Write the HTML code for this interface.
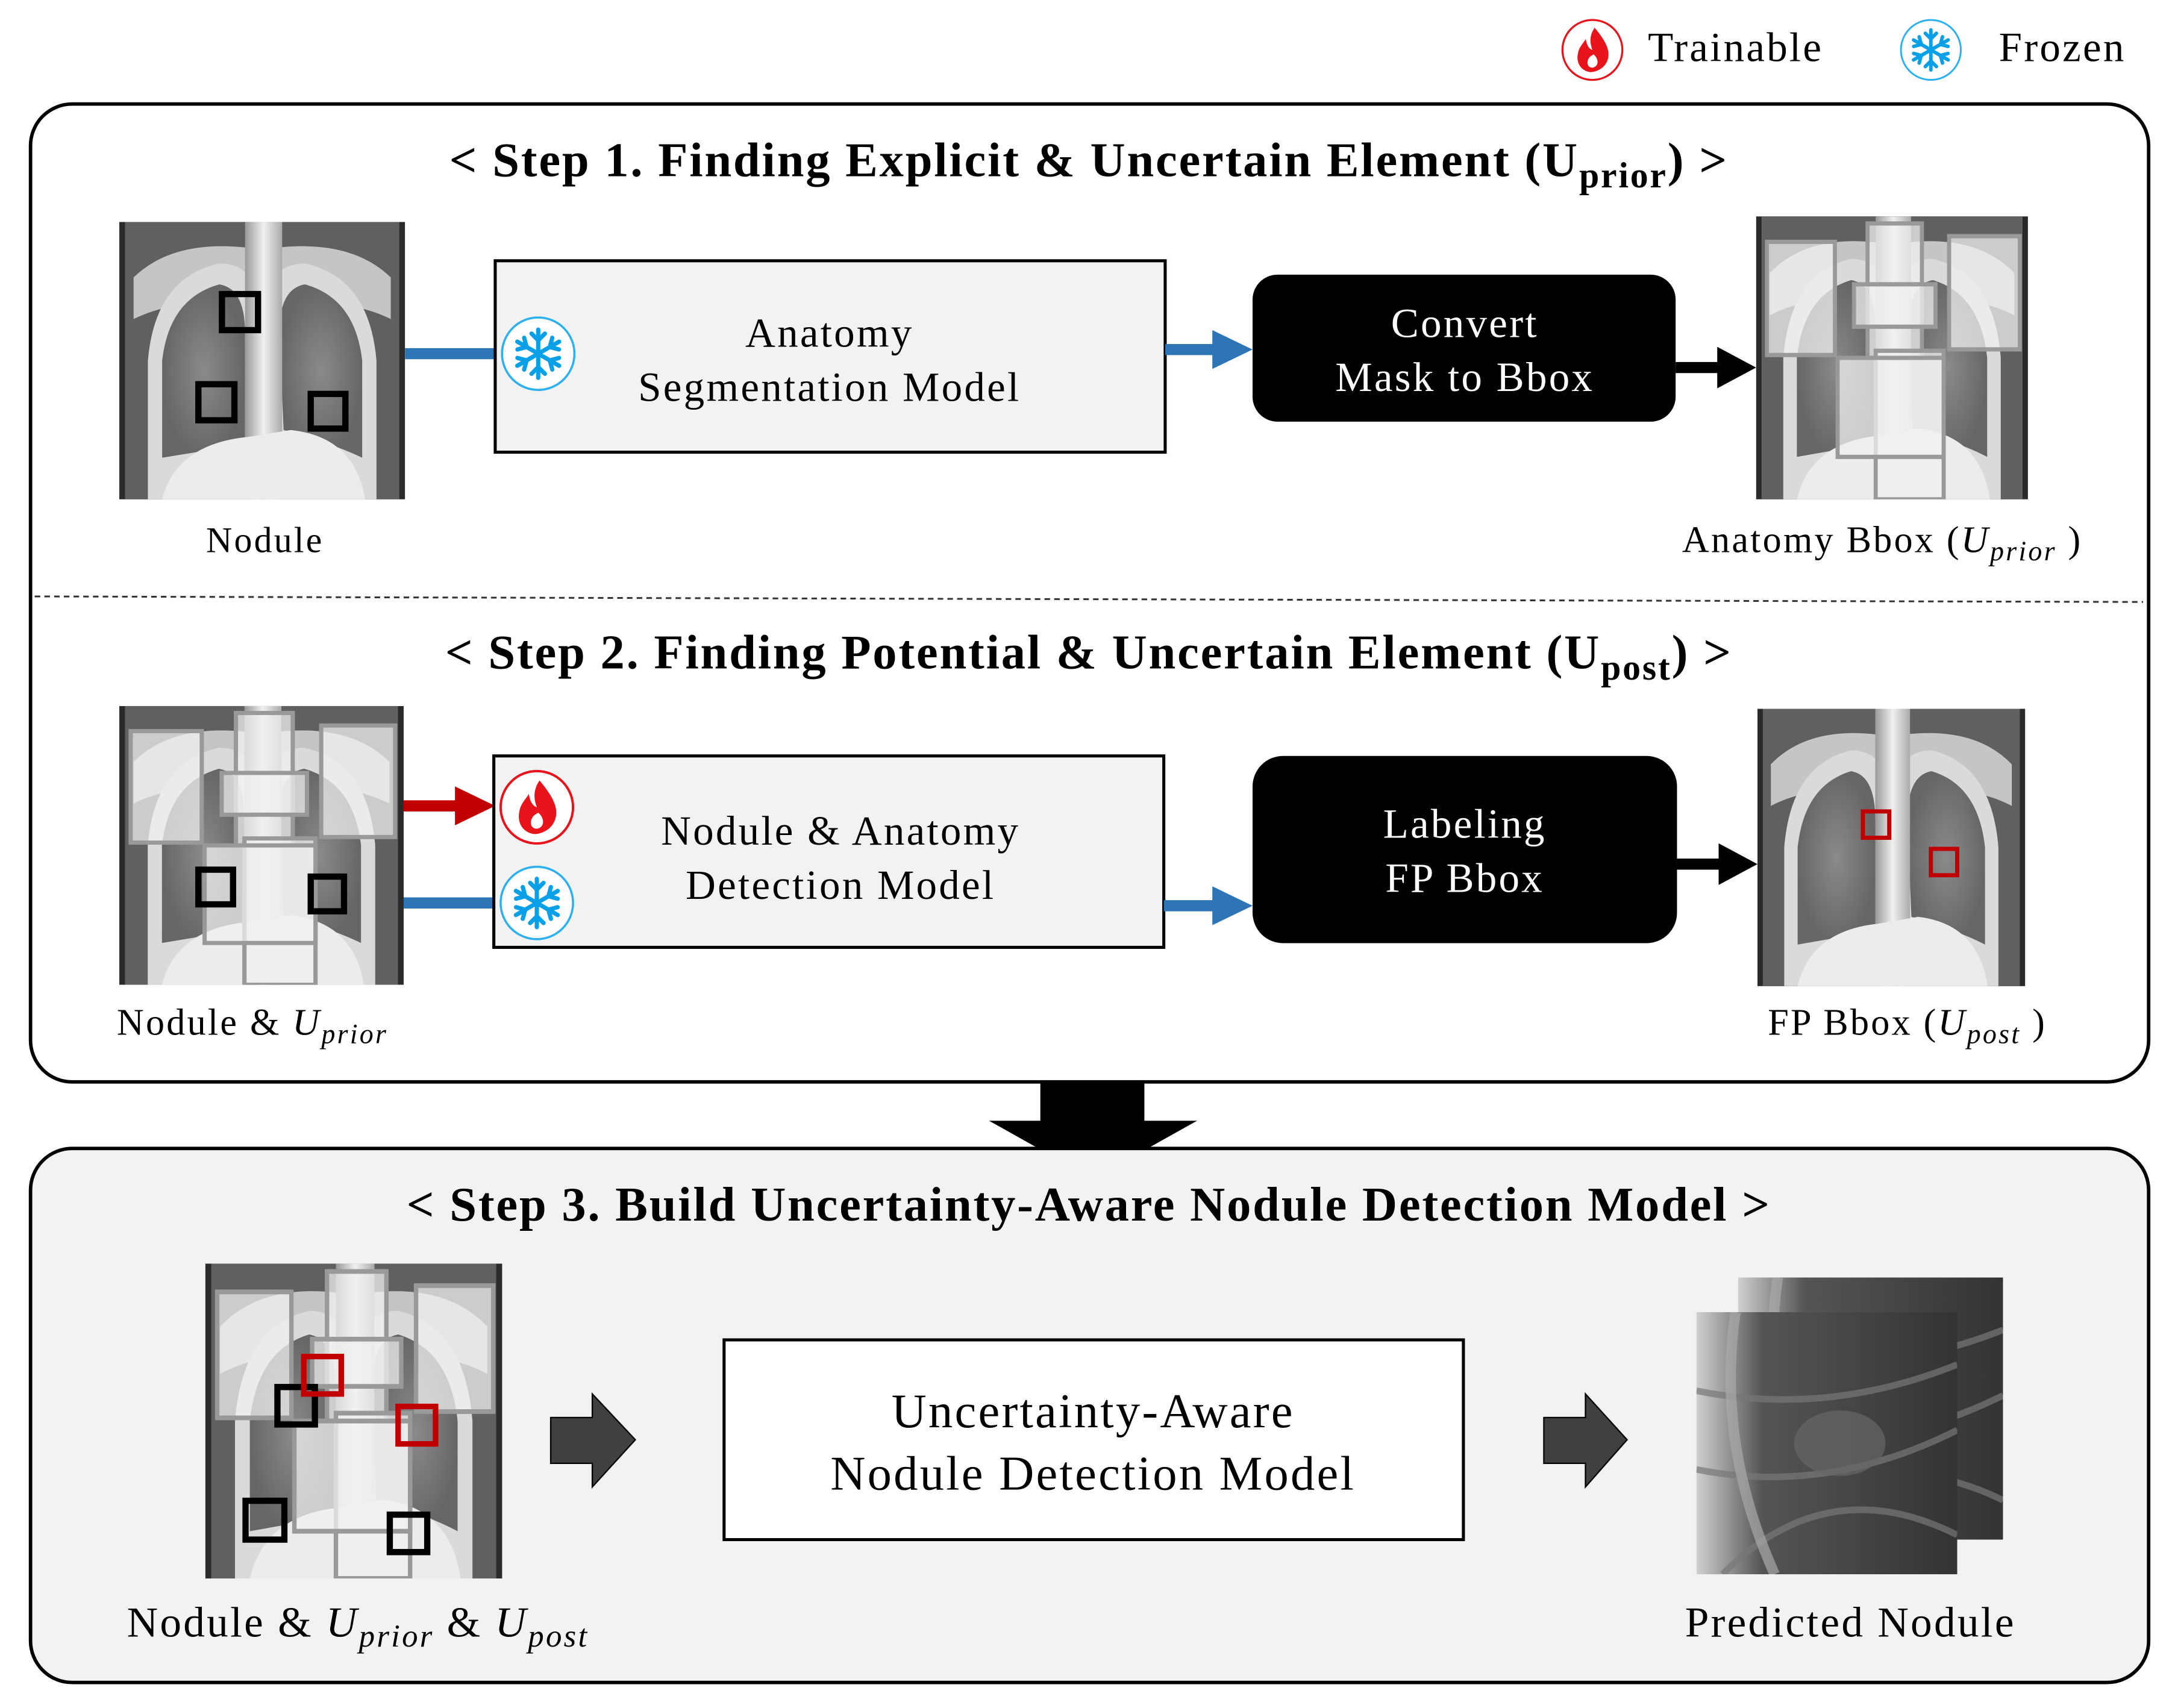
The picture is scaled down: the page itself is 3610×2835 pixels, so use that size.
<!DOCTYPE html>
<html><head><meta charset="utf-8"><style>
html,body{margin:0;padding:0;background:#fff}
svg{display:block}
text{font-family:"Liberation Serif",serif;letter-spacing:1.4px}
.t{letter-spacing:1.2px}
</style></head><body>
<svg width="3610" height="2835" viewBox="0 0 1568 1231.4" xmlns="http://www.w3.org/2000/svg">
<defs>
<radialGradient id="lung" cx="0.5" cy="0.5" r="0.5">
<stop offset="0" stop-color="#8a8a8a"/><stop offset="1" stop-color="#666"/></radialGradient>
<linearGradient id="spine" x1="0" x2="1"><stop offset="0" stop-color="#999"/><stop offset="0.5" stop-color="#f0f0f0"/><stop offset="1" stop-color="#aaa"/></linearGradient>
<symbol id="xray" viewBox="0 0 200 200" preserveAspectRatio="none">
<rect width="200" height="200" fill="#2a2a2a"/>
<rect x="4" y="0" width="192" height="200" fill="#606060"/>
<path d="M10 40 Q40 10 100 20 Q160 10 190 40 L190 70 Q170 60 150 60 L50 60 Q30 60 10 70Z" fill="#c5c5c5"/>
<path d="M20 200 L20 100 Q25 40 70 30 Q95 30 98 60 L98 200Z" fill="#dadada"/>
<path d="M180 200 L180 100 Q175 40 130 30 Q105 30 102 60 L102 200Z" fill="#dadada"/>
<path d="M30 170 L30 100 Q35 55 70 45 Q88 48 88 80 L88 160 Q60 165 30 170Z" fill="url(#lung)"/>
<path d="M170 170 L170 100 Q165 55 130 45 Q112 48 112 80 L115 150 Q150 160 170 170Z" fill="url(#lung)"/>
<rect x="88" y="0" width="26" height="200" fill="url(#spine)"/>
<path d="M30 200 Q40 160 90 155 L120 150 Q165 155 172 200Z" fill="#ececec"/>
</symbol>
<symbol id="snow" viewBox="-30 -30 60 60">
<circle r="27" fill="#fff" stroke="#2bb0f0" stroke-width="1.6"/>
<g stroke="#0aa0e8" stroke-width="3.2" stroke-linecap="round" fill="none">
<g id="arm"><line x1="0" y1="-18" x2="0" y2="18"/><polyline points="-5,-15 0,-10 5,-15"/><polyline points="-5,15 0,10 5,15"/></g>
<use href="#arm" transform="rotate(60)"/><use href="#arm" transform="rotate(120)"/>
</g></symbol>
<symbol id="fire" viewBox="-30 -30 60 60">
<circle r="27" fill="#fff" stroke="#e8141b" stroke-width="1.8"/>
<path d="M2 -20 C12 -8 16 0 14 8 C12 16 4 20 -2 20 C-10 19 -15 12 -13 3 C-12 -3 -8 -6 -6 -10 C-5 -4 -3 -1 0 0 C-3 -8 -2 -14 2 -20Z" fill="#e8141b"/>
<path d="M1 4 C6 8 6 15 0 16 C-5 16 -6 10 -2 6Z" fill="#fff"/>
</symbol>
<symbol id="anat" viewBox="0 0 200 200" preserveAspectRatio="none">
<g fill="rgba(240,240,240,0.75)" stroke="#999" stroke-width="3">
<rect x="8" y="18" width="50" height="80"/><rect x="142" y="14" width="52" height="80"/>
<rect x="82" y="5" width="40" height="95"/><rect x="72" y="48" width="60" height="30"/>
<rect x="88" y="95" width="50" height="105"/><rect x="60" y="100" width="78" height="70"/>
</g></symbol>
<linearGradient id="ctg" x1="0" x2="1"><stop offset="0" stop-color="#d0d0d0"/><stop offset="0.25" stop-color="#555"/><stop offset="1" stop-color="#333"/></linearGradient>
<symbol id="ct" viewBox="0 0 200 200" preserveAspectRatio="none">
<rect width="200" height="200" fill="url(#ctg)"/>
<path d="M0 60 Q100 80 200 40 M0 120 Q100 140 200 90 M20 200 Q100 120 200 170" stroke="#777" stroke-width="5" fill="none" opacity="0.7"/>
<path d="M30 0 Q15 100 60 200" stroke="#aaa" stroke-width="8" fill="none" opacity="0.7"/>
<ellipse cx="110" cy="100" rx="35" ry="25" fill="#666" opacity="0.7"/>
</symbol>
</defs>

<!-- legend -->
<use href="#fire" x="1124" y="12" width="48" height="48"/>
<text x="1188" y="44" font-size="30">Trainable</text>
<use href="#snow" x="1368" y="12" width="48" height="48"/>
<text x="1441" y="44" font-size="30">Frozen</text>

<rect x="22" y="75" width="1527" height="705" rx="30" fill="#fff" stroke="#000" stroke-width="2.5"/>
<text class="t" x="785" y="127" font-size="35" font-weight="bold" text-anchor="middle">&lt; Step 1. Finding Explicit &amp; Uncertain Element (U<tspan font-size="26" dy="8">prior</tspan><tspan dy="-8">) &gt;</tspan></text>
<line x1="25" y1="430" x2="1545" y2="434" stroke="#333" stroke-width="1.3" stroke-dasharray="4,3"/>

<use href="#xray" x="86" y="160" width="206" height="200"/>
<g fill="none" stroke="#000" stroke-width="4.5">
<rect x="160" y="212" width="26" height="26"/><rect x="143" y="277" width="26" height="26"/><rect x="224" y="284" width="25" height="25"/></g>
<text x="191" y="398" font-size="26" text-anchor="middle">Nodule</text>

<line x1="292" y1="255" x2="358" y2="255" stroke="#2e75b6" stroke-width="8"/>
<rect x="357" y="188" width="483" height="138" fill="#f2f2f2" stroke="#000" stroke-width="2.2"/>
<use href="#snow" x="359" y="226" width="58" height="58"/>
<text x="598" y="250" font-size="30" text-anchor="middle">Anatomy</text>
<text x="598" y="289" font-size="30" text-anchor="middle">Segmentation  Model</text>
<line x1="840" y1="252" x2="878" y2="252" stroke="#2e75b6" stroke-width="8"/>
<polygon points="874,238 903,252 874,266" fill="#2e75b6"/>
<rect x="903" y="198" width="305" height="106" rx="18" fill="#000"/>
<text x="1056" y="243" font-size="30" fill="#fff" text-anchor="middle">Convert</text>
<text x="1056" y="282" font-size="30" fill="#fff" text-anchor="middle">Mask to Bbox</text>
<line x1="1208" y1="265" x2="1242" y2="265" stroke="#000" stroke-width="8"/>
<polygon points="1238,250 1266,265 1238,280" fill="#000"/>
<use href="#xray" x="1266" y="156" width="196" height="204"/>
<use href="#anat" x="1266" y="156" width="196" height="204"/>
<text x="1357" y="398" font-size="27" text-anchor="middle">Anatomy Bbox (<tspan font-style="italic">U</tspan><tspan font-style="italic" font-size="20" dy="6">prior</tspan><tspan dy="-6"> )</tspan></text>

<text class="t" x="785" y="482" font-size="35" font-weight="bold" text-anchor="middle">&lt; Step 2. Finding Potential &amp; Uncertain Element (U<tspan font-size="26" dy="8">post</tspan><tspan dy="-8">) &gt;</tspan></text>
<use href="#xray" x="86" y="509" width="205" height="201"/>
<use href="#anat" x="86" y="509" width="205" height="201"/>
<g fill="none" stroke="#000" stroke-width="4.5">
<rect x="143" y="627" width="25" height="25"/><rect x="224" y="632" width="24" height="25"/></g>
<text x="182" y="746" font-size="27" text-anchor="middle">Nodule &amp; <tspan font-style="italic">U</tspan><tspan font-style="italic" font-size="20" dy="6">prior</tspan></text>

<line x1="291" y1="581" x2="332" y2="581" stroke="#c00000" stroke-width="8"/>
<polygon points="328,567 357,581 328,595" fill="#c00000"/>
<line x1="291" y1="651" x2="357" y2="651" stroke="#2e75b6" stroke-width="8"/>
<rect x="356" y="545" width="483" height="138" fill="#f2f2f2" stroke="#000" stroke-width="2.2"/>
<use href="#fire" x="358" y="553" width="58" height="58"/>
<use href="#snow" x="358" y="622" width="58" height="58"/>
<text x="606" y="609" font-size="30" text-anchor="middle">Nodule &amp; Anatomy</text>
<text x="606" y="648" font-size="30" text-anchor="middle">Detection Model</text>
<line x1="839" y1="653" x2="878" y2="653" stroke="#2e75b6" stroke-width="8"/>
<polygon points="874,639 903,653 874,667" fill="#2e75b6"/>
<rect x="903" y="545" width="306" height="135" rx="22" fill="#000"/>
<text x="1056" y="604" font-size="30" fill="#fff" text-anchor="middle">Labeling</text>
<text x="1056" y="643" font-size="30" fill="#fff" text-anchor="middle">FP Bbox</text>
<line x1="1209" y1="623" x2="1243" y2="623" stroke="#000" stroke-width="8"/>
<polygon points="1239,608 1267,623 1239,638" fill="#000"/>
<use href="#xray" x="1267" y="511" width="193" height="200"/>
<g fill="none" stroke="#c00000" stroke-width="3">
<rect x="1343" y="585" width="19" height="19"/><rect x="1392" y="612" width="19" height="19"/></g>
<text x="1375" y="746" font-size="27" text-anchor="middle">FP Bbox (<tspan font-style="italic">U</tspan><tspan font-style="italic" font-size="20" dy="6">post</tspan><tspan dy="-6"> )</tspan></text>

<polygon points="750,780 825,780 825,808 863,808 788,850 713,808 750,808" fill="#000"/>

<rect x="22" y="828" width="1527" height="385" rx="30" fill="#f2f2f2" stroke="#000" stroke-width="2.5"/>
<text class="t" x="785" y="880" font-size="35" font-weight="bold" text-anchor="middle" letter-spacing="1.6">&lt; Step 3. Build Uncertainty-Aware Nodule Detection Model &gt;</text>
<use href="#xray" x="148" y="911" width="214" height="227"/>
<use href="#anat" x="148" y="911" width="214" height="227"/>
<g fill="none" stroke="#000" stroke-width="4.5">
<rect x="200" y="1000" width="27" height="27"/><rect x="177" y="1082" width="28" height="28"/><rect x="281" y="1092" width="27" height="27"/></g>
<g fill="none" stroke="#c00000" stroke-width="4">
<rect x="219" y="978" width="27" height="27"/><rect x="287" y="1014" width="27" height="27"/></g>
<text x="258" y="1180" font-size="31" text-anchor="middle">Nodule &amp; <tspan font-style="italic">U</tspan><tspan font-style="italic" font-size="23" dy="7">prior</tspan><tspan dy="-7"> &amp; </tspan><tspan font-style="italic">U</tspan><tspan font-style="italic" font-size="23" dy="7">post</tspan></text>

<polygon points="397,1022 427,1022 427,1005 458,1038 427,1072 427,1055 397,1055" fill="#404040" stroke="#000" stroke-width="1"/>
<rect x="522" y="966" width="533" height="144" fill="#fff" stroke="#000" stroke-width="2.2"/>
<text x="788" y="1029" font-size="35" text-anchor="middle" letter-spacing="1.8">Uncertainty-Aware</text>
<text x="788" y="1074" font-size="35" text-anchor="middle" letter-spacing="1.8">Nodule Detection Model</text>
<polygon points="1113,1022 1143,1022 1143,1005 1173,1038 1143,1072 1143,1055 1113,1055" fill="#404040" stroke="#000" stroke-width="1"/>
<use href="#ct" x="1253" y="921" width="191" height="189"/>
<use href="#ct" x="1223" y="946" width="188" height="189"/>
<text x="1334" y="1180" font-size="31" text-anchor="middle">Predicted Nodule</text>
</svg>
</body></html>
